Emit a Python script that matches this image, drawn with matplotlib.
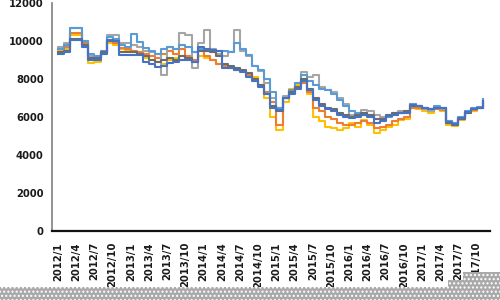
import matplotlib
matplotlib.use("Agg")
import matplotlib.pyplot as plt
from matplotlib.patches import Rectangle

# month index 0 = 2012/1 ... 70 = 2017/11
tick_labels = ["2012/1", "2012/4", "2012/7", "2012/10",
               "2013/1", "2013/4", "2013/7", "2013/10",
               "2014/1", "2014/4", "2014/7", "2014/10",
               "2015/1", "2015/4", "2015/7", "2015/10",
               "2016/1", "2016/4", "2016/7", "2016/10",
               "2017/1", "2017/4", "2017/7", "2017/10"]

blue = [9300, 9400, 10050, 10050, 9700, 9000, 9000, 9300, 10050, 10000, 9260, 9260,
        9250, 9250, 8900, 8800, 8630, 8700, 8840, 8900, 9000, 9000, 8900, 9700,
        9600, 9530, 9500, 8600, 8580, 8500, 8370, 8100, 7900, 7600, 7200, 6500,
        6370, 7000, 7200, 7500, 7900, 7400, 6900, 6600, 6400, 6300, 6100, 6000,
        5950, 6000, 6100, 6000, 5700, 5800, 6050, 6100, 6200, 6200, 6630, 6600,
        6500, 6400, 6500, 6450, 5750, 5650, 5950, 6250, 6400, 6500, 6850]

orange = [9600, 9700, 10400, 10400, 9900, 9200, 9100, 9400, 10000, 9900, 9630, 9600,
          9500, 9400, 9300, 9200, 9100, 9300, 9500, 9300, 9600, 9200, 9000, 9500,
          9200, 9000, 8800, 8700, 8600, 8500, 8400, 8200, 8000, 7700, 7300, 6800,
          5600, 7000, 7300, 7600, 7800, 7300, 6500, 6300, 6000, 5900, 5700, 5600,
          5600, 5700, 5800, 5700, 5400, 5500, 5600, 5800, 5900, 6000, 6500, 6500,
          6400, 6300, 6400, 6350, 5700, 5600, 5900, 6200, 6350, 6500, 6800]

gray = [9700, 9900, 10700, 10700, 10000, 9200, 9200, 9400, 10300, 10300, 9900, 9900,
        9800, 9700, 9500, 9400, 9300, 8200, 9700, 9600, 10400, 10300, 8580, 9900,
        10580, 9600, 9300, 9200, 9400, 10580, 9500, 9200, 8700, 8400, 7800, 7000,
        6500, 7100, 7400, 7800, 8370, 8100, 8200, 7600, 7400, 7300, 7000, 6700,
        6100, 6200, 6370, 6300, 6100, 6000, 6100, 6200, 6300, 6300, 6700, 6600,
        6400, 6300, 6500, 6400, 5800, 5700, 5950, 6300, 6400, 6500, 6850]

gold = [9500, 9600, 10300, 10300, 9800, 8840, 8900, 9300, 9900, 9800, 9600, 9500,
        9400, 9300, 9100, 9000, 8900, 8800, 9000, 9100, 9200, 9000, 8900, 9200,
        9100, 9000, 8800, 8600, 8600, 8500, 8400, 8300, 8100, 7700, 7000, 6000,
        5300, 6800, 7500, 7700, 7900, 7200, 6000, 5800, 5470, 5400, 5300, 5400,
        5680, 5500, 5840, 5600, 5150, 5300, 5470, 5600, 5840, 5900, 6500, 6400,
        6300, 6200, 6400, 6300, 5600, 5550, 5850, 6200, 6300, 6450, 6900]

light_blue = [9600, 9800, 10700, 10700, 10000, 9300, 9200, 9500, 10200, 10100, 9800, 9700,
              10370, 9950, 9630, 9500, 9300, 9600, 9700, 9600, 9800, 9700, 9400, 9600,
              9500, 9530, 9500, 9500, 9400, 9900, 9600, 9260, 8700, 8500, 8000, 7300,
              6500, 7000, 7400, 7800, 8200, 7900, 7700, 7500, 7400, 7200, 6900, 6600,
              6300, 6200, 6200, 6100, 5900, 5900, 6000, 6100, 6200, 6200, 6700, 6600,
              6500, 6400, 6600, 6500, 5800, 5700, 6000, 6300, 6450, 6550, 6950]

dark_gray = [9400, 9500, 10100, 10100, 9800, 9100, 9100, 9400, 10000, 10000, 9400, 9400,
             9400, 9300, 9200, 9000, 8900, 9000, 9100, 9000, 9200, 9100, 8900, 9500,
             9500, 9400, 9200, 8800, 8700, 8600, 8500, 8300, 8000, 7700, 7200, 6600,
             6300, 7000, 7300, 7600, 8000, 7500, 7000, 6700, 6500, 6400, 6200, 6100,
             6000, 6100, 6200, 6100, 5900, 5900, 6100, 6200, 6200, 6300, 6600, 6600,
             6500, 6400, 6500, 6450, 5700, 5600, 5900, 6200, 6400, 6500, 6800]

series = [(gold, "#FFC000"), (orange, "#ED7D31"), (gray, "#A5A5A5"),
          (light_blue, "#5B9BD5"), (dark_gray, "#6B6B6B"), (blue, "#4472C4")]

fig = plt.figure(figsize=(5, 3), dpi=100)
ax = fig.add_axes([0.104, 0.23, 0.876, 0.76])

months = list(range(len(blue)))
for values, color in series:
    ax.plot(months, values, color=color, lw=1.5, drawstyle="steps-post")

ax.set_xlim(-1, 71.2)
ax.set_ylim(0, 12000)
ax.set_yticks(range(0, 12001, 2000))
ax.set_xticks(range(0, 70, 3))
ax.set_xticklabels(tick_labels, rotation=90)

for lab in ax.get_xticklabels() + ax.get_yticklabels():
    lab.set_fontweight("bold")
    lab.set_fontsize(7.2)
    lab.set_color("#1a1a1a")

ax.tick_params(length=0)
ax.tick_params(axis="x", pad=8)
ax.tick_params(axis="y", pad=6)
ax.spines["top"].set_visible(False)
ax.spines["right"].set_visible(False)
ax.spines["left"].set_color("#7f7f7f")
ax.spines["left"].set_linewidth(1.2)
ax.spines["bottom"].set_color("#111111")
ax.spines["bottom"].set_linewidth(1.6)

# grey dotted strip cutting off the bottom of the picture
for x0, y0, w, h in [(0, 0, 1, 13 / 300), (448 / 500, 0, 52 / 500, 20 / 300),
                     (463 / 500, 0, 37 / 500, 28 / 300)]:
    fig.patches.append(Rectangle((x0, y0), w, h, transform=fig.transFigure,
                                 facecolor="#a9a9a9", edgecolor="white",
                                 hatch="....", lw=0, zorder=5))

fig.savefig("out.png", dpi=100)
